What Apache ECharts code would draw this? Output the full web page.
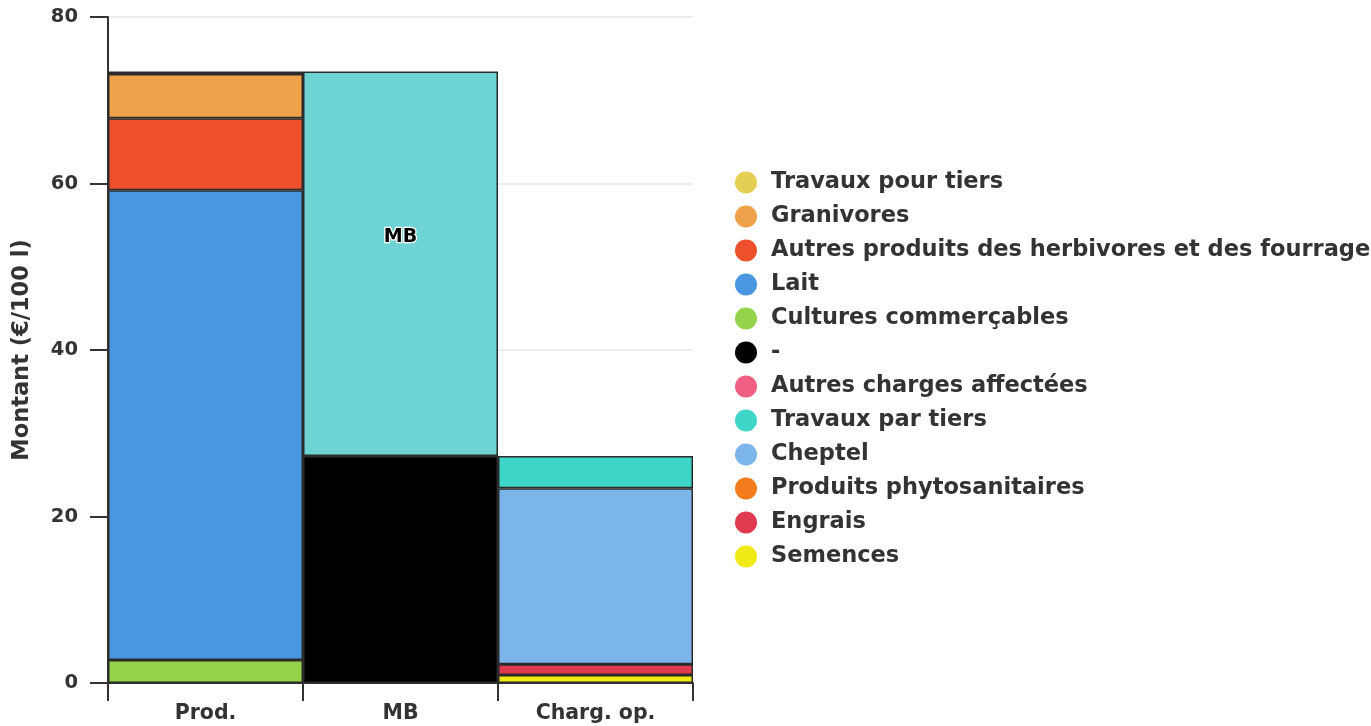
<!DOCTYPE html>
<html>
<head>
<meta charset="utf-8">
<title>Montant</title>
<script src="https://cdn.jsdelivr.net/npm/echarts@6/dist/echarts.min.js"></script>
<style>
  html, body { margin: 0; padding: 0; background: #fff; overflow: hidden; }
  #chart { width: 1371px; height: 726px; }
</style>
</head>
<body>
<div id="chart"></div>
<script>
// catégories de l'axe x
const categories = ['Prod.', 'MB', 'Charg. op.']

// valeurs par série (€/100 l), une valeur par catégorie
const cultures = [2.75, null, null]
const lait = [56.45, null, null]
const autresProduits = [8.65, null, null]
const granivores = [5.3, null, null]
const travauxPourTiers = [0.3, null, null]
const charges = [null, 27.27, null]
const mb = [null, 46.18, null]
const semences = [null, null, 0.95]
const engrais = [null, null, 1.3]
const phyto = [null, null, 0]
const autresCharges = [null, null, 0]
const cheptel = [null, null, 21.15]
const travauxParTiers = [null, null, 3.87]

const yTicks = [0, 20, 40, 60, 80]

const font = 'DejaVu Sans'
const textColor = '#333'

// ordre d'empilement (bas -> haut)
const seriesDefs = [
  { name: 'Cultures commerçables', data: cultures, color: '#94d34a' },
  { name: 'Lait', data: lait, color: '#4a96e0' },
  { name: 'Autres produits des herbivores et des fourrages', data: autresProduits, color: '#ee502e' },
  { name: 'Granivores', data: granivores, color: '#f0a24b' },
  { name: 'Travaux pour tiers', data: travauxPourTiers, color: '#e5cf52' },
  { name: '-', data: charges, color: '#000000' },
  { name: 'MB', data: mb, color: '#6dd3d3', label: true },
  { name: 'Semences', data: semences, color: '#f0ea14' },
  { name: 'Engrais', data: engrais, color: '#e03a50' },
  { name: 'Produits phytosanitaires', data: phyto, color: '#f57c1c' },
  { name: 'Autres charges affectées', data: autresCharges, color: '#f06082' },
  { name: 'Cheptel', data: cheptel, color: '#7cb5ea' },
  { name: 'Travaux par tiers', data: travauxParTiers, color: '#3dd6c8' }
]

const legendOrder = [
  'Travaux pour tiers',
  'Granivores',
  'Autres produits des herbivores et des fourrages',
  'Lait',
  'Cultures commerçables',
  '-',
  'Autres charges affectées',
  'Travaux par tiers',
  'Cheptel',
  'Produits phytosanitaires',
  'Engrais',
  'Semences'
]

const chart = echarts.init(document.getElementById('chart'))

const series = seriesDefs.map(s => ({
  name: s.name,
  type: 'bar',
  stack: 'total',
  barWidth: '100%',
  barGap: '0%',
  data: s.data,
  itemStyle: {
    color: s.color,
    borderColor: '#2b2b2b',
    borderWidth: 1.5
  },
  label: s.label
    ? {
        show: true,
        position: 'inside',
        offset: [0, -27],
        formatter: 'MB',
        fontFamily: font,
        fontWeight: 'bold',
        fontSize: 19,
        color: '#000',
        textBorderColor: '#fff',
        textBorderWidth: 2.5
      }
    : { show: false },
  emphasis: { disabled: true }
}))

chart.setOption({
  animation: false,
  textStyle: { fontFamily: font },
  grid: { left: 108, right: 678, top: 17, bottom: 43 },
  legend: {
    data: legendOrder,
    orient: 'vertical',
    left: 730,
    top: 166,
    icon: 'circle',
    itemWidth: 40,
    itemHeight: 22,
    itemGap: 11,
    itemStyle: { borderWidth: 0 },
    textStyle: {
      fontFamily: font,
      fontWeight: 'bold',
      fontSize: 22.5,
      color: textColor
    }
  },
  xAxis: {
    type: 'category',
    data: categories,
    boundaryGap: true,
    axisLine: { lineStyle: { color: '#333', width: 2 } },
    axisTick: { show: true, length: 18, lineStyle: { color: '#333', width: 2 } },
    axisLabel: {
      margin: 20,
      fontFamily: font,
      fontWeight: 'bold',
      fontSize: 20.5,
      color: textColor
    }
  },
  yAxis: {
    type: 'value',
    min: yTicks[0],
    max: yTicks[yTicks.length - 1],
    interval: 20,
    name: 'Montant (€/100 l)',
    nameLocation: 'middle',
    nameGap: 74,
    nameTextStyle: {
      fontFamily: font,
      fontWeight: 'bold',
      fontSize: 22.5,
      color: textColor
    },
    axisLine: { show: true, lineStyle: { color: '#333', width: 2 } },
    axisTick: { show: true, length: 18, lineStyle: { color: '#333', width: 2 } },
    axisLabel: {
      margin: 30,
      fontFamily: font,
      fontWeight: 'bold',
      fontSize: 19.5,
      color: textColor
    },
    splitLine: { lineStyle: { color: '#e6e6e6', width: 1.5 } }
  },
  series: series
})
</script>
</body>
</html>
